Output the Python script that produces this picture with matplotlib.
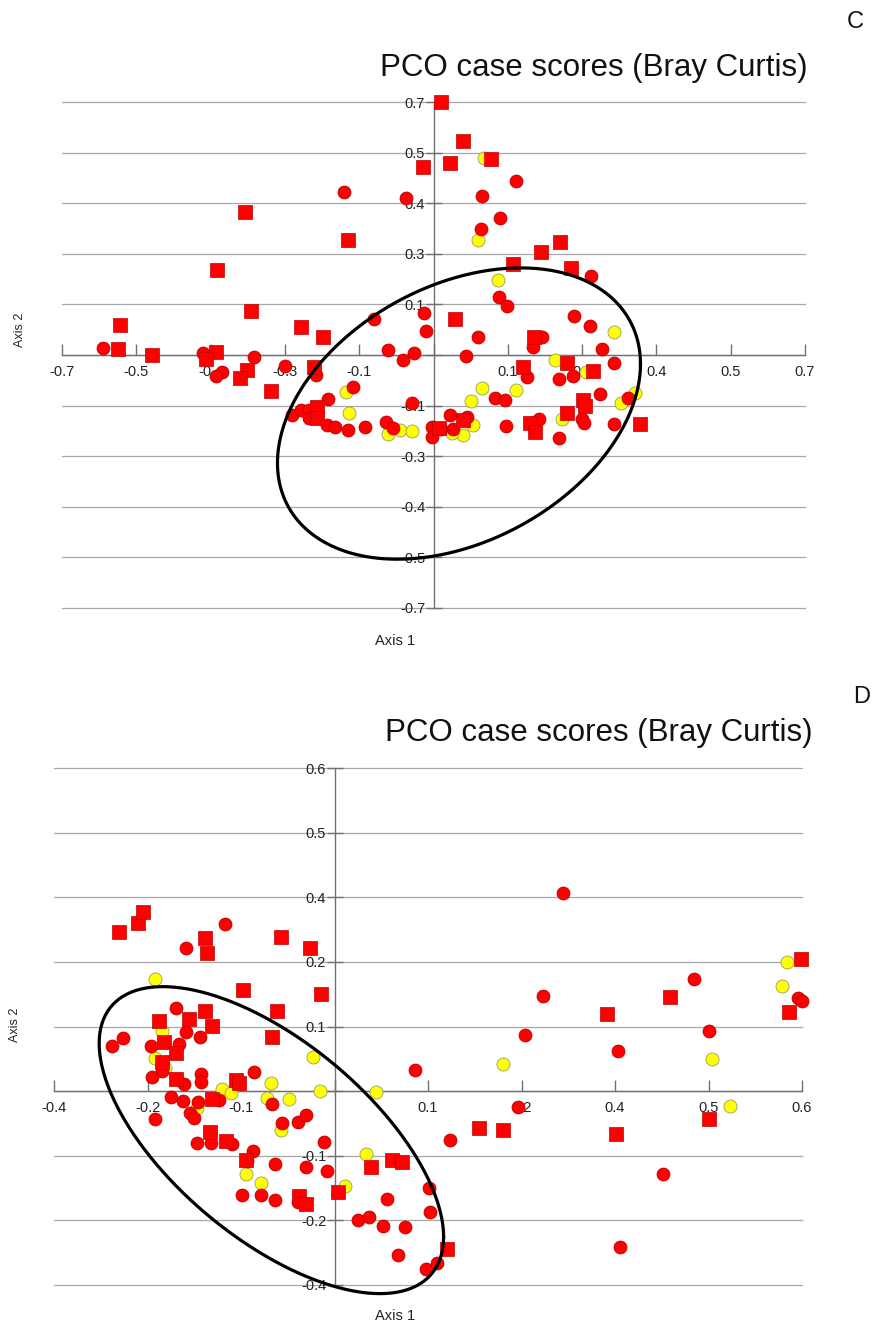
import numpy as np
import matplotlib
matplotlib.use("Agg")
import matplotlib.pyplot as plt

plt.rcParams['font.family'] = ['Liberation Sans', 'DejaVu Sans']

# ---------------- Panel C data ----------------
c_sq_x = [0.015, -0.356, -0.162, -0.407, -0.343, -0.249, -0.209, -0.590, -0.595, -0.531,
          -0.409, -0.428, -0.352, -0.364, -0.307, -0.226, -0.019, 0.055, 0.032, 0.109,
          0.239, 0.203, 0.149, 0.260, 0.041, 0.190, 0.252, 0.168, 0.300, 0.281,
          0.285, 0.251, 0.390, 0.181, 0.192, -0.219, -0.219, 0.055, 0.011]
c_sq_y = [0.700, 0.396, 0.318, 0.235, 0.122, 0.077, 0.050, 0.083, 0.017, 0.000,
          0.008, -0.011, -0.042, -0.064, -0.100, -0.033, 0.520, 0.592, 0.531, 0.542,
          0.313, 0.285, 0.252, 0.241, 0.100, 0.050, -0.022, -0.033, -0.044, -0.125,
          -0.141, -0.160, -0.191, -0.188, -0.213, -0.144, -0.174, -0.180, -0.202]

c_ci_x = [-0.168, -0.051, -0.622, -0.435, -0.399, -0.409, -0.339, -0.279, -0.222, -0.113,
          -0.085, -0.057, -0.036, -0.017, -0.015, -0.151, -0.198, -0.041, -0.266, -0.249,
          -0.234, -0.234, -0.200, -0.185, -0.162, -0.130, -0.089, -0.077, -0.002, -0.002,
          0.155, 0.092, 0.126, 0.090, 0.296, 0.124, 0.139, 0.264, 0.294, 0.083,
          0.205, 0.187, 0.317, 0.062, 0.341, 0.177, 0.237, 0.262, 0.115, 0.134,
          0.313, 0.366, 0.279, 0.283, 0.341, 0.198, 0.237, 0.136, 0.032, 0.064,
          0.036, 0.015]
c_ci_y = [0.451, 0.434, 0.019, 0.006, -0.047, -0.058, -0.006, -0.030, -0.055, 0.100,
          0.014, -0.014, 0.006, 0.116, 0.066, -0.089, -0.122, -0.133, -0.166, -0.152,
          -0.152, -0.174, -0.194, -0.199, -0.208, -0.199, -0.185, -0.202, -0.199, -0.227,
          0.481, 0.440, 0.379, 0.349, 0.219, 0.160, 0.136, 0.108, 0.080, 0.050,
          0.050, 0.022, 0.017, -0.003, -0.022, -0.061, -0.066, -0.058, -0.119, -0.125,
          -0.108, -0.119, -0.177, -0.188, -0.191, -0.177, -0.230, -0.196, -0.166, -0.172,
          -0.205, -0.205]

c_ye_x = [-0.164, -0.160, -0.085, -0.064, -0.040, 0.096, 0.083, 0.121, 0.341, 0.228,
          0.288, 0.092, 0.156, 0.070, 0.379, 0.354, 0.243, 0.075, 0.055, 0.034]
c_ye_y = [-0.102, -0.160, -0.219, -0.208, -0.210, 0.545, 0.318, 0.208, 0.064, -0.014,
          -0.047, -0.091, -0.097, -0.127, -0.105, -0.133, -0.177, -0.194, -0.221, -0.216]

c_ticks = [-0.7, -0.56, -0.42, -0.28, -0.14, 0.0, 0.14, 0.28, 0.42, 0.56, 0.7]
c_xlabels = ['-0.7', '-0.5', '-0.4', '-0.3', '-0.1', '', '0.1', '0.3', '0.4', '0.5', '0.7']
c_ylabels = ['-0.7', '-0.5', '-0.4', '-0.3', '-0.1', '', '0.1', '0.3', '0.4', '0.5', '0.7']
# ellipse: centre, spreads, correlation
c_ell = dict(cx=0.048, cy=-0.162, sx=0.342, sy=0.403, r=0.34)

# ---------------- Panel D data ----------------
d_sq_x = [-0.277, -0.252, -0.246, -0.166, -0.163, -0.069, -0.031, -0.118, -0.017, -0.166,
          -0.074, -0.080, -0.157, -0.225, -0.187, -0.219, -0.203, -0.222, -0.204, -0.127,
          -0.123, -0.157, -0.160, -0.139, -0.113, -0.046, -0.037, 0.005, 0.047, 0.074,
          0.087, 0.144, 0.186, 0.216, 0.361, 0.481, 0.350, 0.583, 0.599, 0.430]
d_sq_y = [0.296, 0.313, 0.333, 0.285, 0.257, 0.287, 0.266, 0.188, 0.180, 0.149,
          0.149, 0.100, 0.121, 0.130, 0.134, 0.091, 0.071, 0.054, 0.022, 0.020,
          0.015, -0.015, -0.076, -0.093, -0.127, -0.194, -0.210, -0.188, -0.140, -0.127,
          -0.132, -0.294, -0.069, -0.073, -0.080, -0.052, 0.143, 0.147, 0.246, 0.175]

d_ci_x = [-0.140, -0.190, -0.203, -0.272, -0.285, -0.235, -0.190, -0.172, -0.200, 0.103,
          -0.221, -0.234, -0.193, -0.171, -0.171, -0.103, -0.210, -0.195, -0.175, -0.148,
          -0.186, -0.180, -0.231, -0.176, -0.159, -0.131, -0.104, -0.112, -0.119, -0.094,
          -0.076, -0.076, -0.047, -0.037, -0.013, -0.009, 0.067, 0.030, 0.044, 0.062,
          0.090, 0.082, 0.121, 0.122, 0.118, 0.131, -0.080, -0.067, -0.047, -0.037,
          0.148, 0.245, 0.364, 0.481, 0.235, 0.421, 0.367, 0.293, 0.595, 0.600,
          0.461, 0.268]
d_ci_y = [0.311, 0.266, 0.154, 0.099, 0.084, 0.084, 0.110, 0.100, 0.087, 0.039,
          0.037, 0.026, 0.013, 0.032, 0.017, 0.035, -0.011, -0.019, -0.020, -0.017,
          -0.041, -0.050, -0.052, -0.097, -0.097, -0.099, -0.112, -0.130, -0.192, -0.192,
          -0.203, -0.136, -0.206, -0.140, -0.095, -0.148, -0.201, -0.240, -0.234, -0.251,
          -0.253, -0.305, -0.180, -0.225, -0.331, -0.320, -0.024, -0.060, -0.058, -0.045,
          -0.091, 0.104, 0.074, 0.112, -0.030, -0.153, -0.290, 0.368, 0.173, 0.167,
          0.208, 0.177]

d_ye_x = [-0.231, -0.222, -0.028, -0.231, -0.217, -0.145, -0.133, -0.177, -0.113, -0.094,
          -0.082, -0.086, -0.058, -0.069, -0.019, 0.053, 0.040, 0.013, 0.216, 0.484,
          0.508, 0.581, 0.574]
d_ye_y = [0.208, 0.112, 0.063, 0.061, 0.043, 0.004, -0.004, -0.032, -0.153, -0.171,
          0.015, -0.013, -0.015, -0.073, 0.000, -0.002, -0.117, -0.177, 0.050, 0.060,
          -0.028, 0.240, 0.195]

d_ticks = [-0.36, -0.24, -0.12, 0.0, 0.12, 0.24, 0.36, 0.48, 0.6]
d_xlabels = ['-0.4', '-0.2', '-0.1', '', '0.1', '0.2', '0.4', '0.5', '0.6']
d_ylabels = ['-0.4', '-0.2', '-0.1', '', '0.1', '0.2', '0.4', '0.5', '0.6']
d_ell = dict(cx=-0.081, cy=-0.091, sx=0.221, sy=0.285, r=-0.63)

TITLE = 'PCO case scores (Bray Curtis)'

fig = plt.figure(figsize=(8.74, 13.26), dpi=100)

MS = 88
RED = '#ff0000'
YEL = '#ffff00'


def panel(rect, ticks, xlabels, ylabels, sqx, sqy, cix, ciy, yex, yey, ell):
    ax = fig.add_axes(rect)
    lo, hi = ticks[0], ticks[-1]
    ax.set_xlim(lo, hi)
    ax.set_ylim(lo, hi)
    # horizontal grid
    for t in ticks:
        ax.plot([lo, hi], [t, t], color='#a8a8a8', lw=0.9, zorder=1, clip_on=False)
    for s in ['top', 'right']:
        ax.spines[s].set_visible(False)
    ax.spines['left'].set_position(('data', 0))
    ax.spines['bottom'].set_position(('data', 0))
    for s in ['left', 'bottom']:
        ax.spines[s].set_color('#707070')
        ax.spines[s].set_linewidth(1.0)
        ax.spines[s].set_zorder(2)
    ax.set_xticks(ticks)
    ax.set_xticklabels(xlabels)
    ax.set_yticks(ticks)
    ax.set_yticklabels(ylabels)
    ax.tick_params(axis='x', direction='in', length=8, width=1.0, color='#707070',
                   pad=7, labelsize=10.5, labelcolor='#222222')
    ax.tick_params(axis='y', direction='inout', length=12, width=1.0, color='#707070',
                   pad=0, labelsize=10.5, labelcolor='#222222')
    ax.patch.set_alpha(0)
    # points
    ax.scatter(yex, yey, s=MS, marker='o', c=YEL, edgecolors='#9a9a60', linewidths=0.6,
               zorder=3, clip_on=False)
    ax.scatter(cix, ciy, s=MS, marker='o', c=RED, edgecolors='#b00000', linewidths=0.5,
               zorder=4, clip_on=False)
    ax.scatter(sqx, sqy, s=MS, marker='s', c=RED, edgecolors='#c00000', linewidths=0.5,
               zorder=5, clip_on=False)
    # ellipse
    t = np.linspace(0, 2 * np.pi, 400)
    ex = ell['cx'] + ell['sx'] * np.cos(t)
    ey = ell['cy'] + ell['sy'] * (ell['r'] * np.cos(t) + np.sqrt(1 - ell['r'] ** 2) * np.sin(t))
    ax.plot(ex, ey, color='black', lw=2.3, zorder=6, clip_on=False)
    return ax


axC = panel([62 / 874, 1 - 608 / 1326, (805 - 62) / 874, (608 - 102) / 1326],
            c_ticks, c_xlabels, c_ylabels, c_sq_x, c_sq_y, c_ci_x, c_ci_y,
            c_ye_x, c_ye_y, c_ell)
axD = panel([54 / 874, 1 - 1285 / 1326, (802 - 54) / 874, (1285 - 768) / 1326],
            d_ticks, d_xlabels, d_ylabels, d_sq_x, d_sq_y, d_ci_x, d_ci_y,
            d_ye_x, d_ye_y, d_ell)

# titles, letters, axis names
fig.text(808 / 874, 1 - 68 / 1326, TITLE, ha='right', va='center', fontsize=22.5, color='#111111')
fig.text(813 / 874, 1 - 733 / 1326, TITLE, ha='right', va='center', fontsize=22.5, color='#111111')
fig.text(855 / 874, 1 - 22 / 1326, 'C', ha='center', va='center', fontsize=17, color='#111111')
fig.text(862 / 874, 1 - 697 / 1326, 'D', ha='center', va='center', fontsize=17, color='#111111')
fig.text(20 / 874, 1 - 330 / 1326, 'Axis 2', rotation=90, ha='center', va='center', fontsize=9, color='#222222')
fig.text(15 / 874, 1 - 1025 / 1326, 'Axis 2', rotation=90, ha='center', va='center', fontsize=9, color='#222222')
fig.text(395 / 874, 1 - 641 / 1326, 'Axis 1', ha='center', va='center', fontsize=10.5, color='#222222')
fig.text(395 / 874, 1 - 1316 / 1326, 'Axis 1', ha='center', va='center', fontsize=10.5, color='#222222')

fig.savefig('out.png', dpi=100, facecolor='white')
